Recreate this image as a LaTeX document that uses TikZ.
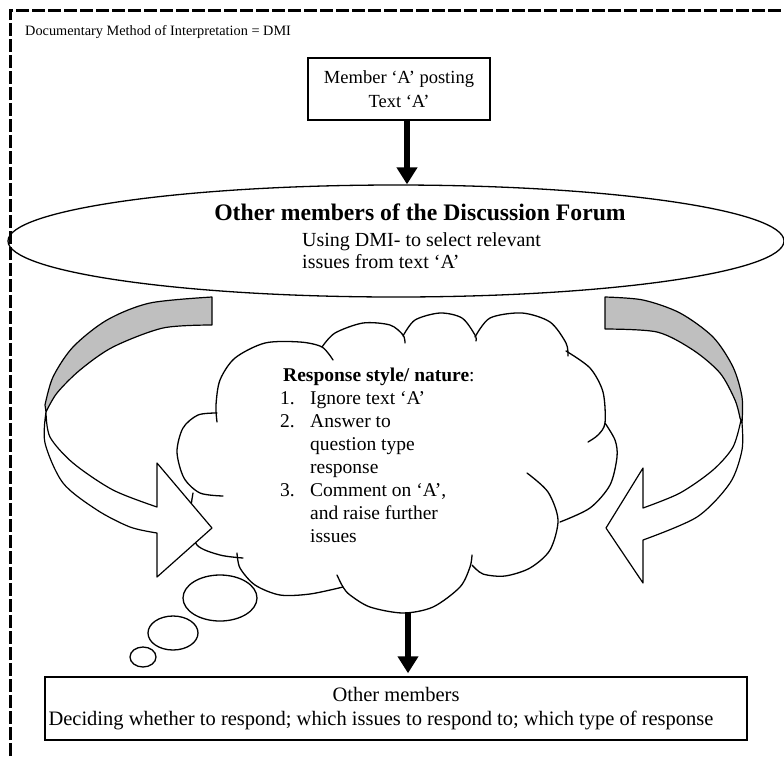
\documentclass[tikz,border=0pt]{standalone}
\usepackage{fontspec}
\setmainfont{Liberation Serif}
\usetikzlibrary{arrows.meta, positioning, shapes.geometric}

\begin{document}
\begin{tikzpicture}[
  x=1pt, y=-1pt,
  frame/.style={line width=3pt, dash pattern=on 13pt off 3pt},
  textbox/.style={rectangle, draw, line width=1.5pt, align=center, inner sep=0pt, font=\fontsize{18.5}{24}\selectfont},
  label/.style={inner sep=0pt, align=left, font=\fontsize{20}{22}\selectfont},
  heavy/.style={line width=5.5pt, -{Triangle[length=17pt,width=20pt]}},
  ribbon/.style={line width=1.2pt, line join=round},
  outline/.style={line width=1.3pt, line cap=round},
  bubble/.style={ellipse, draw, line width=1.3pt, inner sep=0pt},
]
\useasboundingbox (0,0) rectangle (784,756);

% frame and heading
\draw[frame] (10,756) -- (10,10) -- (784,10);
\node[anchor=west, inner sep=0pt, font=\fontsize{14.3}{16}\selectfont] (heading) at (25,32) {Documentary Method of Interpretation = DMI};

% top box and forum ellipse
\node[textbox, minimum width=182pt, minimum height=62pt] (member) at (399,89) {Member ‘A’ posting\\Text ‘A’};
\node[ellipse, draw, line width=1.3pt, minimum width=776pt, minimum height=112pt, inner sep=0pt] (forum) at (396,241) {};
\node[inner sep=0pt, font=\fontsize{23.7}{26}\selectfont\bfseries] (forumtitle) at (420,212) {Other members of the Discussion Forum};
\node[label, anchor=north west] (dmi) at (302,232) {Using DMI- to select relevant\\issues from text ‘A’};

% cloud, one puff at a time
\begin{scope}[outline]
\draw plot[smooth] coordinates {(217,422) (216,405) (220,380) (235,358) (265,343) (300,342) (322,347) (333,360)};
\draw plot[smooth] coordinates {(322,347) (335,333) (363,323) (390,325) (403,335) (405,343)};
\draw plot[smooth] coordinates {(403,336) (415,320) (440,313) (462,318) (475,335) (476,341)};
\draw plot[smooth] coordinates {(475,337) (490,318) (522,313) (550,322) (566,343) (568,356)};
\draw plot[smooth] coordinates {(566,351) (590,368) (603,392) (605,423) (598,435) (588,442)};
\draw plot[smooth] coordinates {(605,423) (615,440) (617,457) (610,485) (590,508) (560,522)};
\draw plot[smooth] coordinates {(527,473) (548,492) (558,520) (550,550) (530,568) (505,576) (483,574) (472,565)};
\draw plot[smooth] coordinates {(472,555) (470,567) (460,587) (433,607) (403,613) (370,607) (350,595) (343,587) (337,575)};
\draw plot[smooth] coordinates {(343,587) (310,594) (280,595) (255,585) (240,568) (237,553)};
\draw plot[smooth] coordinates {(193,493) (190,520) (197,545) (220,555) (243,558)};
\draw plot[smooth] coordinates {(223,496) (200,493) (184,478) (177,452) (183,428) (198,415) (217,413)};
\end{scope}
\coordinate (cloudbot) at (408,612);

% thought bubbles
\node[bubble, minimum width=74pt, minimum height=46pt] (bub1) at (220,598) {};
\node[bubble, minimum width=50pt, minimum height=34pt] (bub2) at (173,633) {};
\node[bubble, minimum width=26pt, minimum height=20pt] (bub3) at (143,657) {};

% left turning arrow
\filldraw[ribbon, fill=black!25] plot[smooth] coordinates {(212,325) (163,328) (113,347) (80,370) (57,393) (46,412)}
  -- plot[smooth] coordinates {(45,405) (53,377) (73,347) (107,320) (150,303) (212,297)} -- cycle;
\filldraw[ribbon, fill=white] plot[smooth] coordinates {(46,412) (50,437) (73,463) (113,490) (157,507)}
  -- (157,463) -- (212,528) -- (157,577) -- (157,533)
  -- plot[smooth] coordinates {(157,533) (130,527) (97,510) (63,483) (45,443) (46,412)} -- cycle;

% right turning arrow
\filldraw[ribbon, fill=black!25] plot[smooth] coordinates {(605,329) (657,332) (693,350) (720,373) (735,400) (740,418)}
  -- plot[smooth] coordinates {(742,423) (742,397) (733,367) (713,337) (680,313) (643,300) (605,297)} -- cycle;
\filldraw[ribbon, fill=white] plot[smooth] coordinates {(741,420) (733,447) (713,470) (680,493) (643,508)}
  -- (643,468) -- (606,528) -- (643,583) -- (643,540)
  -- plot[smooth] coordinates {(643,540) (697,517) (730,483) (742,450) (742,423)} -- cycle;

% cloud text
\node[label, anchor=north west] (resp) at (280,365) {%
  \fontsize{19.5}{23}\selectfont
  \begin{tabular}{@{}p{30pt}@{}l@{}}
  \multicolumn{2}{@{\hspace{3pt}}l@{}}{\textbf{Response style/ nature}:}\\
  1. & Ignore text ‘A’\\
  2. & Answer to\\
     & question type\\
     & response\\
  3. & Comment on ‘A’,\\
     & and raise further\\
     & issues
  \end{tabular}};

% bottom box
\node[textbox, font=\fontsize{20.5}{24}\selectfont, minimum width=702pt, minimum height=63pt] (decide) at (396,708.5) {Other members\\Deciding whether to respond; which issues to respond to; which type of response\hspace*{30pt}};

% black arrows
\coordinate (upx) at (407,150);
\draw[heavy] (member.south -| upx) -- (forum.north -| upx);
\draw[heavy, shorten >=3pt] (cloudbot) -- (cloudbot |- decide.north);
\end{tikzpicture}
\end{document}
